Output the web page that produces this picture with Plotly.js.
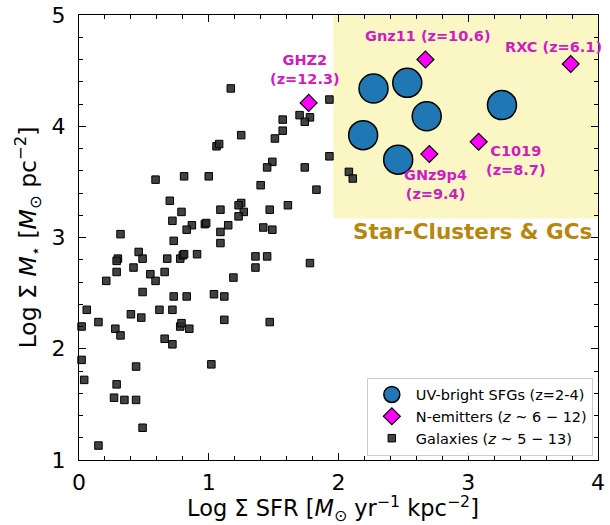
<!DOCTYPE html>
<html>
<head>
<meta charset="utf-8">
<script src="https://cdn.plot.ly/plotly-3.0.1.min.js"></script>
<style>
  html, body { margin: 0; padding: 0; background: #fff; }
  #chart { width: 610px; height: 525px; }
</style>
</head>
<body>
<div id="chart"></div>
<script>
// ---------------- DATA ----------------
// Galaxies (z ~ 5-13): log Sigma SFR, log Sigma M*
const galaxySFR = [
  1.17, 1.93, 1.70, 1.78, 1.74, 1.57, 1.57, 1.51, 1.25, 1.06,
  1.08, 1.93, 1.74, 1.49, 1.45, 1.00, 0.81, 0.59, 1.40, 1.83,
  0.70, 1.25, 1.23, 1.61, 0.79, 1.27, 1.09, 1.47, 1.23, 0.72,
  0.87, 0.83, 0.97, 0.98, 1.15, 1.09, 1.42, 1.49, 0.32, 0.73,
  1.09, 0.46, 0.49, 0.30, 0.29, 0.68, 0.78, 0.80, 0.81, 0.91,
  1.36, 1.45, 1.78, 1.36, 0.42, 0.29, 0.66, 0.55, 1.19, 0.21,
  0.59, 0.49, 0.73, 0.83, 1.04, 1.12, 0.06, 0.40, 0.48, 0.62,
  0.72, 0.15, 0.02, 0.28, 0.32, 0.78, 0.79, 0.85, 0.66, 0.72,
  1.12, 1.47, 0.02, 0.44, 1.02, 0.04, 0.29, 0.27, 0.35, 0.44,
  0.49, 0.15, 2.08, 2.11
];
const galaxyMstar = [
  4.34, 4.24, 4.10, 4.08, 4.04, 4.06, 3.96, 3.89, 3.92, 3.82,
  3.84, 3.73, 3.63, 3.68, 3.63, 3.55, 3.55, 3.52, 3.47, 3.43,
  3.33, 3.31, 3.29, 3.29, 3.23, 3.23, 3.25, 3.25, 3.19, 3.15,
  3.11, 3.07, 3.12, 3.13, 3.11, 3.05, 3.09, 3.07, 3.03, 2.97,
  2.95, 2.87, 2.81, 2.81, 2.79, 2.81, 2.81, 2.84, 2.85, 2.85,
  2.83, 2.83, 2.77, 2.73, 2.73, 2.69, 2.69, 2.67, 2.64, 2.61,
  2.61, 2.51, 2.47, 2.47, 2.49, 2.47, 2.35, 2.31, 2.28, 2.35,
  2.35, 2.24, 2.20, 2.18, 2.12, 2.20, 2.23, 2.18, 2.09, 2.04,
  2.26, 2.24, 1.90, 1.84, 1.86, 1.72, 1.68, 1.56, 1.54, 1.54,
  1.29, 1.13, 3.59, 3.53
];

// UV-bright SFGs (z=2-4)
const sfgSFR   = [2.27, 2.53, 2.68, 2.19, 2.46, 3.26];
const sfgMstar = [4.34, 4.39, 4.09, 3.92, 3.70, 4.19];

// N-emitters (z ~ 6-12)
const nemNames = ["GHZ2", "Gnz11", "RXC", "C1019", "GNz9p4"];
const nemRedshift = ["12.3", "10.6", "6.1", "8.7", "9.4"];
const nemSFR   = [1.77, 2.67, 3.79, 3.08, 2.70];
const nemMstar = [4.21, 4.60, 4.56, 3.86, 3.75];

// Star-cluster region
const regionLabel = "Star-Clusters & GCs";
const regionSFRmin = 1.96;
const regionMstarMin = 3.17;

// axis ticks and titles
const xTicks = [0, 1, 2, 3, 4];
const yTicks = [1, 2, 3, 4, 5];
const xTitle = "Log Σ SFR [<i>M</i><sub>⊙</sub> yr<sup>−1</sup> kpc<sup>−2</sup>]";
const yTitle = "Log Σ <i>M</i><sub>⋆</sub> [<i>M</i><sub>⊙</sub> pc<sup>−2</sup>]";

// ---------------- STYLE ----------------
const FONT = "DejaVu Sans, Liberation Sans, sans-serif";
const LABEL_COLOR = "#d21cbf";

// label placement (text anchor offsets in data units, per N-emitter)
const labelLayout = {
  GHZ2:   {dx: -0.03, dy: 0.30, twoLine: true},
  Gnz11:  {dx: 0.02,  dy: 0.21, twoLine: false},
  RXC:    {dx: -0.13, dy: 0.155, twoLine: false},
  C1019:  {dx: 0.29,  dy: -0.17, twoLine: true},
  GNz9p4: {dx: 0.045, dy: -0.27, twoLine: true}
};

const annotations = nemNames.map((n, i) => {
  const L = labelLayout[n];
  const txt = L.twoLine ? `${n}<br>(z=${nemRedshift[i]})` : `${n} (z=${nemRedshift[i]})`;
  return {
    x: nemSFR[i] + L.dx, y: nemMstar[i] + L.dy, xref: "x", yref: "y",
    text: "<b>" + txt + "</b>", showarrow: false,
    font: {family: FONT, size: 14.5, color: LABEL_COLOR},
    xanchor: "center", yanchor: "middle", align: "center"
  };
});
annotations.push({
  x: (regionSFRmin + 4) / 2 + 0.05, y: regionMstarMin - 0.12, xref: "x", yref: "y",
  text: "<b>" + regionLabel.replace("&", "&amp;") + "</b>", showarrow: false,
  font: {family: FONT, size: 21.5, color: "#b8860b"},
  xanchor: "center", yanchor: "middle"
});
// x-axis title (as annotation, to control its exact position)
annotations.push({
  x: 0.49, y: -0.068, xref: "paper", yref: "paper",
  text: xTitle, showarrow: false,
  font: {family: FONT, size: 22.5, color: "#000"},
  xanchor: "center", yanchor: "top"
});

const traces = [
  {
    x: galaxySFR, y: galaxyMstar, type: "scatter", mode: "markers",
    name: "Galaxies (<i>z</i> ~ 5 − 13)", legendrank: 3,
    marker: {symbol: "square", size: 7.5, color: "rgba(45,45,45,0.9)",
             line: {color: "#000", width: 1}},
    cliponaxis: false
  },
  {
    x: sfgSFR, y: sfgMstar, type: "scatter", mode: "markers",
    name: "UV-bright SFGs (z=2-4)", legendrank: 1,
    marker: {symbol: "circle", size: 29, color: "#1f77b4",
             line: {color: "#000", width: 1.5}}
  },
  {
    x: nemSFR, y: nemMstar, type: "scatter", mode: "markers",
    name: "N-emitters (<i>z</i> ~ 6 − 12)", legendrank: 2,
    marker: {symbol: "diamond", size: 13, color: "#ff00ff",
             line: {color: "#000", width: 1.2}}
  }
];

const axisCommon = {
  showgrid: false, zeroline: false, showline: true, linecolor: "#000", linewidth: 1,
  mirror: "allticks", ticks: "inside", ticklen: 7, tickwidth: 1, tickcolor: "#000",
  tickfont: {family: FONT, size: 22, color: "#000"},
  minor: {ticks: "inside", ticklen: 4, tickwidth: 1, tickcolor: "#000", dtick: 0.2, showgrid: false}
};

const layout = {
  width: 610, height: 525,
  margin: {l: 79, r: 12, t: 15, b: 65},
  paper_bgcolor: "#fff", plot_bgcolor: "#fff",
  font: {family: FONT, color: "#000"},
  showlegend: true,
  hovermode: false,
  xaxis: Object.assign({}, axisCommon, {
    range: [0, 4], tickvals: xTicks, ticktext: xTicks.map(String),
    ticklabelstandoff: 3
  }),
  yaxis: Object.assign({}, axisCommon, {
    range: [1, 5], tickvals: yTicks, ticktext: yTicks.map(String),
    ticklabelstandoff: 8,
    title: {text: yTitle, font: {family: FONT, size: 23.5, color: "#000"}, standoff: 8}
  }),
  shapes: [{
    type: "rect", xref: "x", yref: "y", x0: regionSFRmin, x1: 4, y0: regionMstarMin, y1: 5,
    fillcolor: "#faf7c4", line: {width: 0}, layer: "below"
  }],
  annotations: annotations,
  legend: {
    x: 0.99, y: 0.01, xanchor: "right", yanchor: "bottom",
    bgcolor: "rgba(255,255,255,0.85)", bordercolor: "#cccccc", borderwidth: 1,
    font: {family: FONT, size: 14.5, color: "#000"},
    traceorder: "normal", itemsizing: "trace", itemwidth: 38
  }
};

Plotly.newPlot("chart", traces, layout, {displayModeBar: false, staticPlot: true});
</script>
</body>
</html>
